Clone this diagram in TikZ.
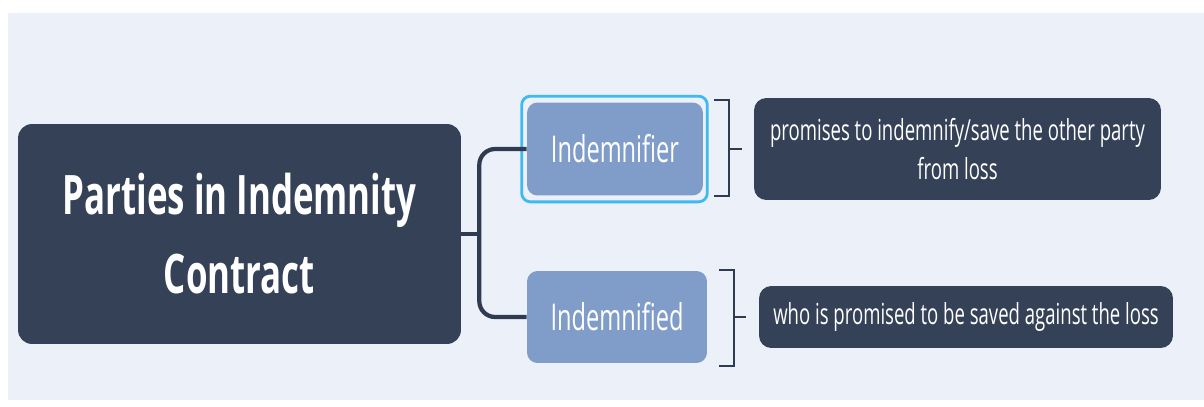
\documentclass[tikz,border=0pt]{standalone}
\usepackage{fontspec}
\setmainfont{Open Sans}[FakeStretch=0.64]
\usepackage{tikz}
\usetikzlibrary{calc, positioning}
\definecolor{mainNavy}{HTML}{344157}
\definecolor{lineNavy}{HTML}{2F3B50}
\definecolor{childBlue}{HTML}{7F9DC8}
\definecolor{paperBlue}{HTML}{ECF0F8}
\definecolor{pickCyan}{HTML}{3DB9F4}

\tikzset{
    rootbox/.style={fill=mainNavy, rounded corners=8, text=white, align=center,
        minimum width=8.86cm, minimum height=4.4cm, font=\bfseries\fontsize{31}{45}\selectfont},
    childbox/.style={fill=childBlue, rounded corners=6, text=white, align=center,
        minimum height=1.86cm, font=\fontsize{21}{25}\selectfont},
    notebox/.style={fill=mainNavy, rounded corners=7, text=white, align=center,
        inner sep=2pt, font=\fontsize{16.5}{22}\selectfont},
    link/.style={lineNavy, line width=2.4pt},
    brace/.style={lineNavy, line width=1.3pt},
}

\begin{document}
\begin{tikzpicture}[x=0.02cm, y=-0.02cm]
    \useasboundingbox (0,0) rectangle (1204,406);
    \fill[paperBlue] (8,13) rectangle (1204,400);

    \node[rootbox] (root) at (239.5,234) {Parties in Indemnity\\Contract};
    \node[childbox, minimum width=3.52cm] (indemnifier) at (615,149) {Indemnifier};
    \node[childbox, minimum width=3.6cm, minimum height=1.84cm] (indemnified) at (617,317) {Indemnified};
    \node[notebox, minimum width=8.14cm, minimum height=2.04cm] (promises) at (957.5,149)
        {promises to indemnify/save the other party\\from loss};
    \node[notebox, minimum width=8.28cm, minimum height=1.24cm] (saved) at (966,317)
        {who is promised to be saved against the loss};

    % selection frame round the first child
    \draw[pickCyan, line width=1.6pt, rounded corners=5]
        ([shift={(-5,-6)}]indemnifier.north west) rectangle ([shift={(4,6)}]indemnifier.south east);

    % fork from the root to both children
    \coordinate (fork) at ([xshift=0.36cm]root.east);
    \draw[link] (root.east) -- (fork);
    \draw[link, rounded corners=9] (fork) |- (indemnifier.west);
    \draw[link, rounded corners=9] (fork) |- (indemnified.west);

    % brackets between children and their notes
    \coordinate (tipA) at ([xshift=-0.24cm]promises.west);
    \draw[brace] (714,100) -- (729,100) -- (729,196) -- (714,196);
    \draw[brace] (729,149) -- (tipA);
    \coordinate (tipB) at ([xshift=-0.26cm]saved.west);
    \draw[brace] (719,270) -- (734,270) -- (734,366) -- (719,366);
    \draw[brace] (734,317) -- (tipB);
\end{tikzpicture}
\end{document}
